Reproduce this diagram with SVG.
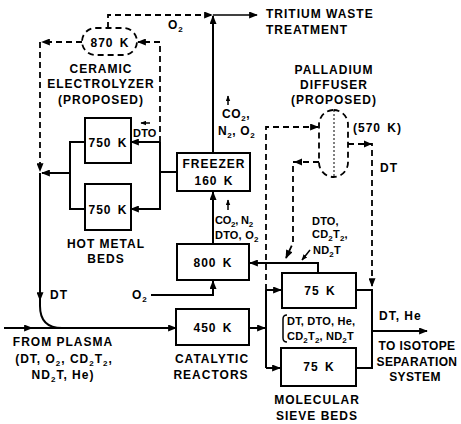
<svg xmlns="http://www.w3.org/2000/svg" width="461" height="424" viewBox="0 0 461 424">
<style>
text{font-family:"Liberation Sans",Arial,sans-serif;font-weight:bold;font-size:12px;letter-spacing:1px;fill:#000}
.m{text-anchor:middle}
.k{word-spacing:2px}
.sm{font-size:11px;letter-spacing:0.2px}
.md{font-size:12px;letter-spacing:0.6px}
.tg{letter-spacing:-0.2px}
.t{letter-spacing:0.4px}
.s{font-size:8px}
.box{fill:#fff;stroke:#000;stroke-width:2}
.ln{fill:none;stroke:#000;stroke-width:2}
.th{fill:none;stroke:#000;stroke-width:1.5}
.da{fill:none;stroke:#000;stroke-width:1.8;stroke-dasharray:6 4}
.arr{marker-end:url(#ah)}
.sa{marker-end:url(#sh)}
</style>
<defs>
<marker id="ah" viewBox="0 0 10 8" refX="9" refY="4" markerWidth="10" markerHeight="7" markerUnits="userSpaceOnUse" orient="auto"><path d="M0,0 L10,4 L0,8 z" fill="#000"/></marker>
<marker id="sh" viewBox="0 0 10 8" refX="9" refY="4" markerWidth="6" markerHeight="5" markerUnits="userSpaceOnUse" orient="auto"><path d="M0,0 L10,4 L0,8 z" fill="#000"/></marker>
</defs>
<rect width="461" height="424" fill="#fff"/>

<g id="connectors">
<path class="da arr" d="M108,28 V15 H212"/>
<path class="ln arr" d="M213,153 V16"/>
<path class="th arr" d="M213,15 H257"/>
<path class="da arr" d="M82,42 H42"/>
<path class="da arr" d="M40,42 V171"/>
<path class="da arr" d="M160,142 V42 H138"/>
<path class="ln arr" d="M160,142 H131"/>
<path class="ln arr" d="M160,142 V209 H131"/>
<path class="ln" d="M177,172 H160"/>
<path class="ln" d="M85,142 H70 V209 H85"/>
<path class="ln arr" d="M70,173 H42"/>
<path class="ln arr" d="M40,173 V300"/>
<path class="ln" d="M40,296 V306 Q40,328 62,328"/>
<path class="ln arr" d="M4,328 H176"/>
<path class="ln arr" d="M4,328 H32"/>
<path class="ln arr" d="M151,295 H213 V281"/>
<path class="ln arr" d="M213,244 V192"/>
<path class="ln arr" d="M249,328 H265"/>
<path class="ln" d="M266,290 V368"/>
<path class="ln arr" d="M266,290 H281"/>
<path class="ln arr" d="M266,368 H280"/>
<path class="da arr" d="M266,290 V127 H318"/>
<path class="da arr" d="M348,144 H372 V286"/>
<path d="M364,140.5 L372,144 L364,147.5 z" fill="#000"/>
<path class="da arr" d="M319,162 H293 V243 L286,258"/>
<path d="M302,158.5 L294,162 L302,165.5 z" fill="#000"/>
<path class="ln arr" d="M318,273 V263 H250"/>
<path class="th sa" d="M310,250 L302,260"/>
<path class="ln" d="M356,290 H372 V368 H356"/>
<path class="ln arr" d="M372,331 H427"/>
<path class="th sa" d="M228,105 V96"/>
<path class="th sa" d="M228,210 V200"/>
<path class="th sa" d="M150,123 H141"/>
<path class="th" d="M287,315 Q283,315 283,319 L283,338 Q283,342 287,342"/>
</g>

<g id="labels">
<text x="266" y="18">TRITIUM WASTE</text>
<text x="266" y="34">TREATMENT</text>
<text x="168" y="29">O<tspan class="s" dy="3">2</tspan></text>
<text class="md" x="222" y="118">CO<tspan class="s" dy="3">2</tspan><tspan dy="-3">,</tspan></text>
<text class="md" x="218" y="135">N<tspan class="s" dy="3">2</tspan><tspan dy="-3">, O</tspan><tspan class="s" dy="3">2</tspan></text>
<text class="sm tg" x="215" y="224">CO<tspan class="s" dy="3">2</tspan><tspan dy="-3">, N</tspan><tspan class="s" dy="3">2</tspan></text>
<text class="sm" x="215" y="239">DTO, O<tspan class="s" dy="3">2</tspan></text>
<text class="sm" x="133" y="137">DTO</text>
<text x="132" y="299">O<tspan class="s" dy="3">2</tspan></text>
<text x="50" y="299">DT</text>
<text class="m" x="63" y="346">FROM PLASMA</text>
<text class="m" x="64" y="363">(DT, O<tspan class="s" dy="3">2</tspan><tspan dy="-3">, CD</tspan><tspan class="s" dy="3">2</tspan><tspan dy="-3">T</tspan><tspan class="s" dy="3">2</tspan><tspan dy="-3">,</tspan></text>
<text class="m" x="63" y="379">ND<tspan class="s" dy="3">2</tspan><tspan dy="-3">T, He)</tspan></text>
<text class="sm" x="312" y="225">DTO,</text>
<text class="sm" x="312" y="238">CD<tspan class="s" dy="3">2</tspan><tspan dy="-3">T</tspan><tspan class="s" dy="3">2</tspan><tspan dy="-3">,</tspan></text>
<text class="sm" x="313" y="254">ND<tspan class="s" dy="3">2</tspan><tspan dy="-3">T</tspan></text>
<text x="380" y="172">DT</text>
<text class="sm" x="287" y="325">DT, DTO, He,</text>
<text class="sm" x="287" y="340">CD<tspan class="s" dy="3">2</tspan><tspan dy="-3">T</tspan><tspan class="s" dy="3">2</tspan><tspan dy="-3">, ND</tspan><tspan class="s" dy="3">2</tspan><tspan dy="-3">T</tspan></text>
<text x="379" y="320">DT, He</text>
<text class="m t" x="417" y="350">TO ISOTOPE</text>
<text class="m t" x="417" y="366">SEPARATION</text>
<text class="m t" x="415" y="381">SYSTEM</text>
</g>

<g id="electrolyzer">
<rect class="da" x="82" y="28" width="55" height="27" rx="13.5"/>
<text class="m k" x="110" y="46.5">870 K</text>
<text class="m" x="101" y="73">CERAMIC</text>
<text class="m" x="101" y="88">ELECTROLYZER</text>
<text class="m" x="101" y="104">(PROPOSED)</text>
</g>

<g id="hot-metal-bed-1">
<rect class="box" x="85" y="118" width="46" height="45"/>
<text class="m k" x="108" y="146.5">750 K</text>
</g>
<g id="hot-metal-bed-2">
<rect class="box" x="85" y="184" width="46" height="46"/>
<text class="m k" x="108" y="213.5">750 K</text>
<text class="m" x="106" y="248">HOT METAL</text>
<text class="m" x="106" y="263">BEDS</text>
</g>

<g id="freezer">
<rect class="box" x="177" y="153" width="73" height="38"/>
<text class="m" x="214" y="168">FREEZER</text>
<text class="m k" x="214" y="185">160 K</text>
</g>

<g id="oxidizer-800k">
<rect class="box" x="177" y="244" width="72" height="36"/>
<text class="m k" x="213" y="266.5">800 K</text>
</g>

<g id="catalytic-reactor">
<rect class="box" x="176" y="309" width="73" height="36"/>
<text class="m k" x="213" y="331.5">450 K</text>
<text class="m" x="212" y="363">CATALYTIC</text>
<text class="m" x="211" y="379">REACTORS</text>
</g>

<g id="palladium-diffuser">
<rect class="da" x="319" y="110" width="29" height="67" rx="14.5"/>
<line x1="334" y1="110" x2="334" y2="177" stroke="#000" stroke-width="1" stroke-dasharray="2 2"/>
<text class="m" x="334" y="74">PALLADIUM</text>
<text class="m" x="334" y="89">DIFFUSER</text>
<text class="m" x="334" y="104">(PROPOSED)</text>
<text class="k" x="353" y="132">(570 K)</text>
</g>

<g id="sieve-bed-1">
<rect class="box" x="282" y="273" width="74" height="35"/>
<text class="m k" x="320" y="295">75 K</text>
</g>
<g id="sieve-bed-2">
<rect class="box" x="281" y="348" width="75" height="38"/>
<text class="m k" x="319" y="371">75 K</text>
<text class="m" x="317" y="404">MOLECULAR</text>
<text class="m" x="317" y="420">SIEVE BEDS</text>
</g>
</svg>
